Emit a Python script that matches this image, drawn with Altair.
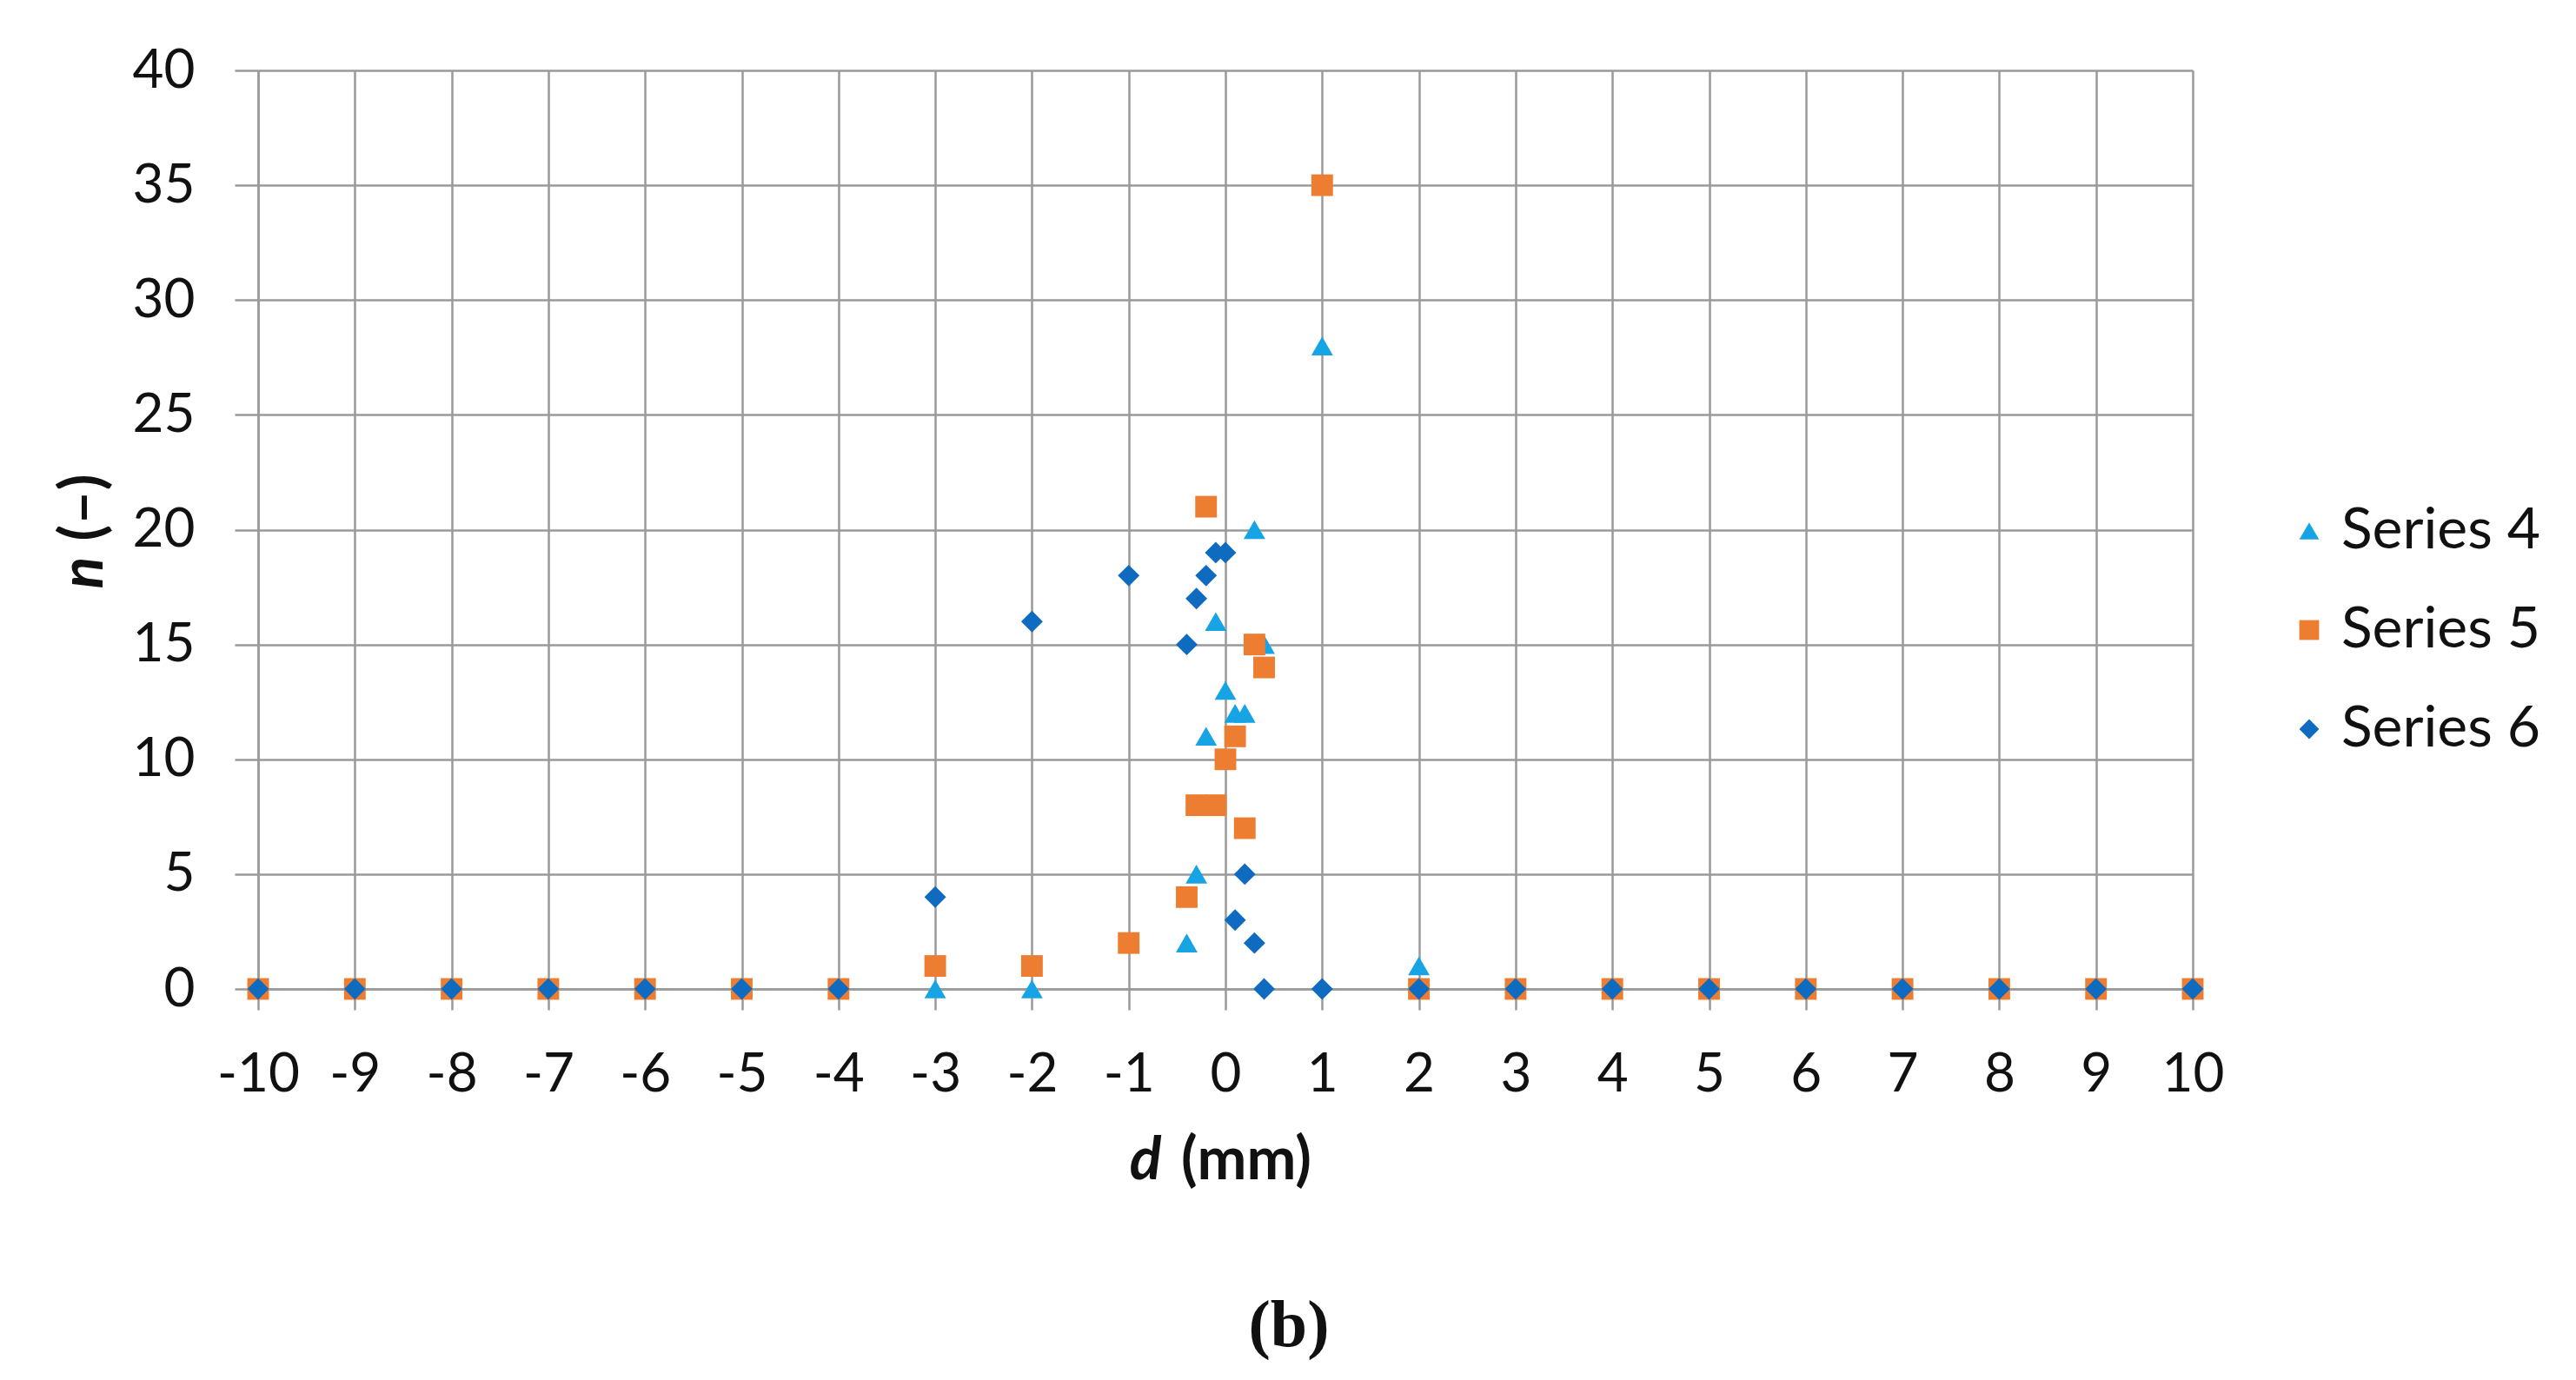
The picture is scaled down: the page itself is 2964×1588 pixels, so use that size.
import altair as alt
import pandas as pd

# ---- data ----
series_names = ["Series 4", "Series 5", "Series 6"]

x4 = [-10, -9, -8, -7, -6, -5, -4, -3, -2, -0.4, -0.3, -0.2, -0.1, 0, 0.1, 0.2, 0.3, 0.4, 1, 2, 3, 4, 5, 6, 7, 8, 9, 10]
y4 = [0, 0, 0, 0, 0, 0, 0, 0, 0, 2, 5, 11, 16, 13, 12, 12, 20, 15, 28, 1, 0, 0, 0, 0, 0, 0, 0, 0]

x5 = [-10, -9, -8, -7, -6, -5, -4, -3, -2, -1, -0.4, -0.3, -0.2, -0.1, 0, 0.1, 0.2, 0.3, 0.4, 1, 2, 3, 4, 5, 6, 7, 8, 9, 10]
y5 = [0, 0, 0, 0, 0, 0, 0, 1, 1, 2, 4, 8, 21, 8, 10, 11, 7, 15, 14, 35, 0, 0, 0, 0, 0, 0, 0, 0, 0]

x6 = [-10, -9, -8, -7, -6, -5, -4, -3, -2, -1, -0.4, -0.3, -0.2, -0.1, 0, 0.1, 0.2, 0.3, 0.4, 1, 2, 3, 4, 5, 6, 7, 8, 9, 10]
y6 = [0, 0, 0, 0, 0, 0, 0, 4, 16, 18, 15, 17, 18, 19, 19, 3, 5, 2, 0, 0, 0, 0, 0, 0, 0, 0, 0, 0, 0]

x_ticks = [-10, -9, -8, -7, -6, -5, -4, -3, -2, -1, 0, 1, 2, 3, 4, 5, 6, 7, 8, 9, 10]
y_ticks = [0, 5, 10, 15, 20, 25, 30, 35, 40]

rows = []
for name, xs, ys in zip(series_names, [x4, x5, x6], [y4, y5, y6]):
    for xv, yv in zip(xs, ys):
        rows.append({"d": xv, "n": yv, "series": name})
df = pd.DataFrame(rows)

GRID = "#9a9a9a"
FONT = "Lato"
W, H = 2226, 1057

legend_kw = dict(title=None, orient="none", legendX=2327, legendY=497,
                 labelFontSize=66, labelFont=FONT, labelColor="#111111",
                 symbolSize=520, labelOffset=4, rowPadding=48,
                 symbolStrokeWidth=0, labelLimit=0)

points = alt.Chart(df).mark_point(filled=True, opacity=1, size=620).encode(
    x=alt.X("d:Q",
            scale=alt.Scale(domain=[-10, 10], nice=False, zero=False),
            axis=alt.Axis(values=x_ticks, title=None, labelExpr="'' + datum.value",
                          labelFontSize=62, labelFont=FONT, labelColor="#111111",
                          labelPadding=44, tickSize=24, tickColor=GRID, tickWidth=2.5,
                          domainColor=GRID, domainWidth=2.5,
                          grid=True, gridColor=GRID, gridWidth=2.5, labelFlush=False)),
    y=alt.Y("n:Q",
            scale=alt.Scale(domain=[0, 40], nice=False),
            axis=alt.Axis(values=y_ticks, title=None,
                          labelFontSize=62, labelFont=FONT, labelColor="#111111",
                          labelPadding=46, tickSize=27, tickColor=GRID, tickWidth=2.5,
                          domainColor=GRID, domainWidth=2.5,
                          grid=True, gridColor=GRID, gridWidth=2.5)),
    color=alt.Color("series:N",
                    scale=alt.Scale(domain=series_names, range=["#17A4E5", "#ED7D31", "#0F6BBF"]),
                    legend=alt.Legend(**legend_kw)),
    shape=alt.Shape("series:N",
                    scale=alt.Scale(domain=series_names, range=["triangle-up", "square", "diamond"]),
                    legend=alt.Legend(**legend_kw)),
    order=alt.Order("series:N"),
)

def label(txt, x, y, size, weight="bold", style="normal", angle=0, font=FONT, baseline="alphabetic"):
    return alt.Chart(pd.DataFrame({"t": [txt]})).mark_text(
        font=font, fontSize=size, fontWeight=weight, fontStyle=style, angle=angle,
        align="center", baseline=baseline, color="#111111",
    ).encode(text="t:N", x=alt.value(x), y=alt.value(y))

x_title_d = label("d", 1021, 1276, 68, style="italic")
x_title_mm = label("(mm)", 1137, 1276, 68)
y_title_n = label("n", -199, 578, 68, style="italic", angle=270, baseline="middle")
y_title_u = label("(\u2013)", -199, 503, 68, angle=270, baseline="middle")
caption = label("(b)", 1186, 1468, 76, font="Liberation Serif")

chart = alt.layer(points, x_title_d, x_title_mm, y_title_n, y_title_u, caption).properties(
    width=W, height=H,
    autosize=alt.AutoSizeParams(type="none"),
    padding={"left": 289, "top": 73, "right": 425, "bottom": 430},
).configure_view(stroke=None).configure(background="white")

chart.save("out.html", embed_options={"renderer": "svg", "actions": False})
